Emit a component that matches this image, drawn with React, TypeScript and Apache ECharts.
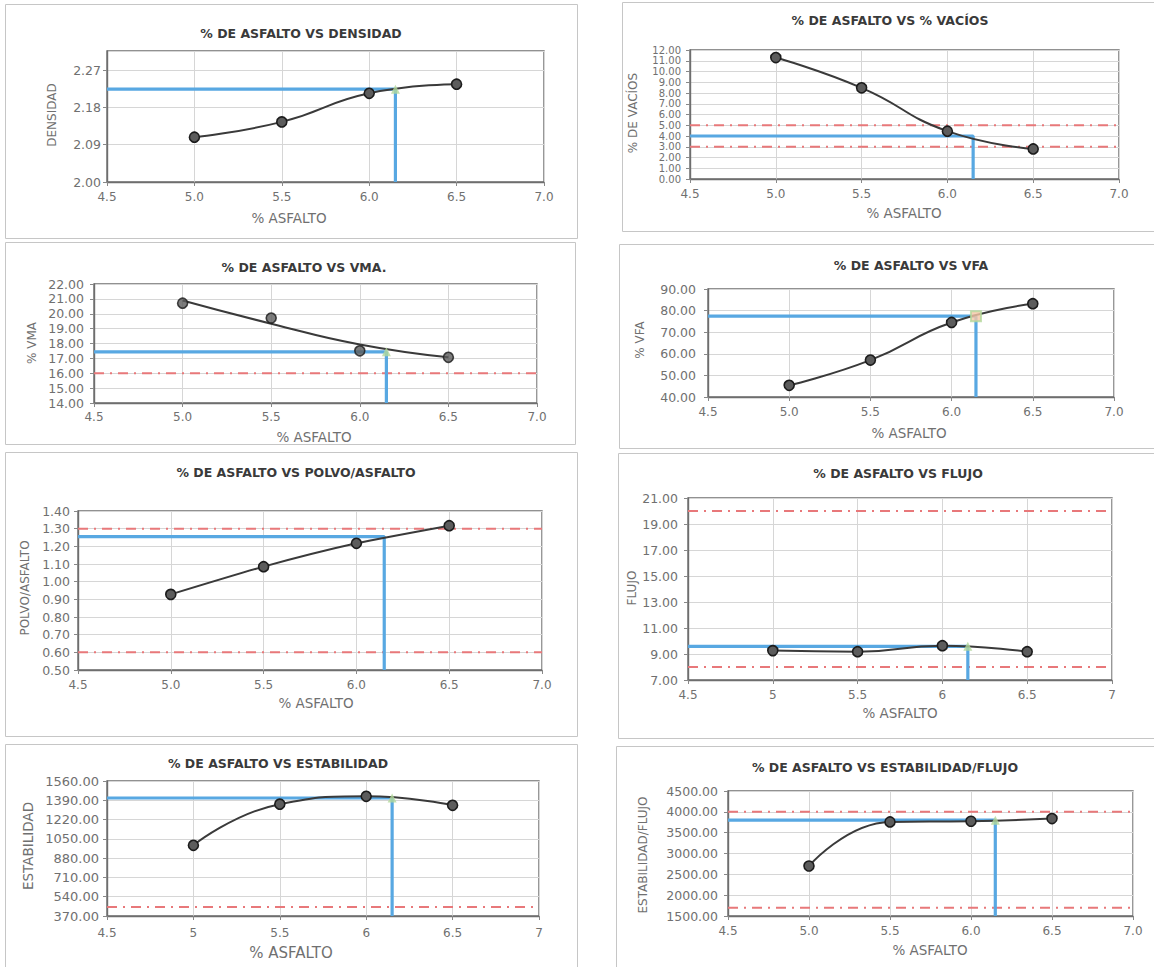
import React, { useEffect, useRef } from "react";
import * as echarts from "echarts";

// ---------- DATA ----------
const asfalto = [5.0, 5.5, 6.0, 6.5];
const asfaltoOptimo = 6.15;

const densidad = [2.108, 2.145, 2.214, 2.236];
const vacios = [11.3, 8.48, 4.45, 2.8];
const vma = [20.71, 19.71, 17.51, 17.07];
const vmaTendencia = [20.89, 19.33, 17.93, 17.07];
const vfa = [45.4, 57.1, 74.5, 83.2];
const polvoAsfalto = [0.928, 1.085, 1.217, 1.317];
const flujo = [9.26, 9.18, 9.64, 9.18];
const estabilidad = [993, 1356, 1425, 1346];
const estabilidadFlujo = [2700, 3758, 3774, 3839];

const valoresOptimos = [2.224, 4.0, 17.44, 77.4, 1.255, 9.59, 1410, 3800];
const limites: number[][] = [[], [5, 3], [16], [], [1.3, 0.6], [20, 8], [450], [4000, 1700]];

const titulos = [
  "% DE ASFALTO VS DENSIDAD",
  "% DE ASFALTO VS % VACÍOS",
  "% DE ASFALTO VS VMA.",
  "% DE ASFALTO VS VFA",
  "% DE ASFALTO VS POLVO/ASFALTO",
  "% DE ASFALTO VS FLUJO",
  "% DE ASFALTO VS ESTABILIDAD",
  "% DE ASFALTO VS ESTABILIDAD/FLUJO",
];
const nombresY = [
  "DENSIDAD",
  "% DE VACÍOS",
  "% VMA",
  "% VFA",
  "POLVO/ASFALTO",
  "FLUJO",
  "ESTABILIDAD",
  "ESTABILIDAD/FLUJO",
];
const nombreX = "% ASFALTO";

const ejeXMin = 4.5;
const ejeXMax = 7.0;
const ejeXIntervalo = 0.5;
const ejeYMin = [2.0, 0, 14, 40, 0.5, 7, 370, 1500];
const ejeYMax = [2.316, 12, 22, 90, 1.4, 21, 1560, 4500];
const ejeYIntervalo = [0.09, 1, 1, 10, 0.1, 2, 170, 500];

const series = [densidad, vacios, vma, vfa, polvoAsfalto, flujo, estabilidad, estabilidadFlujo];

// ---------- LAYOUT / STYLE ----------
type Layout = {
  grid: [number, number, number, number];
  box: [number, number, number, number];
  title: [number, number];
  xName: [number, number];
  yName: [number, number];
  yMargin: number;
  xMargin: number;
  xPlain: boolean;
  yFont: number;
  xNameFont: number;
  yNameFont: number;
  marker: string | null;
  smooth: number;
};

const layouts: Layout[] = [
  { grid: [107, 51, 437, 131], box: [5, 4, 572, 234], title: [301, 33], xName: [289, 218], yName: [52, 115], yMargin: 6, xMargin: 9, xPlain: false, yFont: 12.5, xNameFont: 13.5, yNameFont: 12, marker: "triangle", smooth: 0.5 },
  { grid: [690, 50, 429, 129], box: [622, 2, 540, 229], title: [890, 20], xName: [904, 213], yName: [633, 113], yMargin: 9, xMargin: 9, xPlain: false, yFont: 10, xNameFont: 13.5, yNameFont: 12, marker: null, smooth: 0.5 },
  { grid: [94, 284, 443, 119], box: [5, 242, 570, 202], title: [304, 267], xName: [314, 437], yName: [32, 343], yMargin: 10, xMargin: 8, xPlain: false, yFont: 12.5, xNameFont: 13.5, yNameFont: 12, marker: "triangle", smooth: 0.5 },
  { grid: [708, 289, 406, 108], box: [619, 244, 540, 204], title: [911, 265], xName: [909, 433], yName: [640, 340], yMargin: 12, xMargin: 9, xPlain: false, yFont: 12.5, xNameFont: 13.5, yNameFont: 12, marker: "rect", smooth: 0.5 },
  { grid: [78, 511, 464, 159], box: [5, 452, 572, 284], title: [296, 472], xName: [316, 703], yName: [25, 588], yMargin: 8, xMargin: 9, xPlain: false, yFont: 12.5, xNameFont: 13.5, yNameFont: 12, marker: null, smooth: 0.2 },
  { grid: [688, 498, 424, 182], box: [618, 453, 540, 285], title: [898, 473], xName: [900, 713], yName: [632, 588], yMargin: 10, xMargin: 9, xPlain: true, yFont: 12.5, xNameFont: 13.5, yNameFont: 12, marker: "triangle", smooth: 0.5 },
  { grid: [107, 781, 432, 135], box: [5, 744, 572, 230], title: [278, 763], xName: [291, 953], yName: [28, 846], yMargin: 8, xMargin: 11, xPlain: true, yFont: 13, xNameFont: 15, yNameFont: 13.5, marker: "triangle", smooth: 0.5 },
  { grid: [728, 791, 405, 125], box: [616, 746, 540, 230], title: [885, 767], xName: [930, 950], yName: [643, 855], yMargin: 10, xMargin: 9, xPlain: false, yFont: 12.5, xNameFont: 13.5, yNameFont: 12, marker: "triangle", smooth: 0.5 },
];

const FONT = "DejaVu Sans";
const LABEL_COLOR = "#707070";
const GRID_LINE = "#d6d6d6";
const BORDER = "#6e6e6e";
const CURVE = "#3a3a3a";
const BLUE = "#58a8e2";
const RED = "#e8787a";
const MARKER = "#b3d89b";

function buildOption() {
  const grid: any[] = [];
  const xAxis: any[] = [];
  const yAxis: any[] = [];
  const allSeries: any[] = [];
  const graphic: any[] = [];

  layouts.forEach((L, i) => {
    const [gl, gt, gw, gh] = L.grid;
    grid.push({
      left: gl,
      top: gt,
      width: gw,
      height: gh,
      containLabel: false,
      outerBoundsMode: "none",
      show: true,
      borderColor: BORDER,
      borderWidth: 1.4,
      backgroundColor: "transparent",
    });
    xAxis.push({
      type: "value",
      gridIndex: i,
      min: ejeXMin,
      max: ejeXMax,
      interval: ejeXIntervalo,
      axisLine: { show: true, onZero: false, lineStyle: { color: BORDER, width: 1.4 } },
      axisTick: { show: true, length: 4, lineStyle: { color: "#888" } },
      axisLabel: {
        color: LABEL_COLOR,
        fontFamily: FONT,
        fontSize: 12,
        margin: L.xMargin,
        formatter: (v: number) => (L.xPlain ? String(v) : v.toFixed(1)),
      },
      splitLine: { show: true, lineStyle: { color: GRID_LINE, width: 1 } },
    });
    yAxis.push({
      type: "value",
      gridIndex: i,
      min: ejeYMin[i],
      max: ejeYMax[i],
      interval: ejeYIntervalo[i],
      axisLine: { show: true, onZero: false, lineStyle: { color: BORDER, width: 1.4 } },
      axisTick: { show: true, length: 4, lineStyle: { color: "#888" } },
      axisLabel: {
        color: LABEL_COLOR,
        fontFamily: FONT,
        fontSize: L.yFont,
        lineHeight: L.yFont,
        margin: L.yMargin,
        hideOverlap: false,
        showMinLabel: true,
        showMaxLabel: i === 0 ? false : true,
        formatter: (v: number) => v.toFixed(2),
      },
      splitLine: { show: true, lineStyle: { color: GRID_LINE, width: 1 } },
    });

    // red limit lines
    limites[i].forEach((v) => {
      allSeries.push({
        type: "line",
        xAxisIndex: i,
        yAxisIndex: i,
        data: [
          [ejeXMin, v],
          [ejeXMax, v],
        ],
        symbol: "none",
        silent: true,
        lineStyle: { color: RED, width: 2, type: [10, 6, 2, 6] },
        z: 2,
      });
    });

    // blue optimum guide
    const opt = valoresOptimos[i];
    allSeries.push({
      type: "line",
      xAxisIndex: i,
      yAxisIndex: i,
      data: [
        [ejeXMin, opt],
        [asfaltoOptimo, opt],
        [asfaltoOptimo, ejeYMin[i]],
      ],
      symbol: "none",
      silent: true,
      lineStyle: { color: BLUE, width: 3.2 },
      z: 3,
    });

    const pts = asfalto.map((x, j) => [x, series[i][j]]);
    const pointStyle = { color: "#5c5c5c", borderColor: "#1c1c1c", borderWidth: 1.6 };

    if (i === 2) {
      // VMA: trend line + separate points
      allSeries.push({
        type: "line",
        xAxisIndex: i,
        yAxisIndex: i,
        data: asfalto.map((x, j) => [x, vmaTendencia[j]]),
        smooth: 0.5,
        symbol: "none",
        lineStyle: { color: CURVE, width: 2 },
        z: 4,
      });
      allSeries.push({
        type: "scatter",
        xAxisIndex: i,
        yAxisIndex: i,
        data: pts,
        symbol: "circle",
        symbolSize: 10,
        itemStyle: pointStyle,
        z: 5,
      });
    } else {
      allSeries.push({
        type: "line",
        xAxisIndex: i,
        yAxisIndex: i,
        data: pts,
        smooth: L.smooth,
        symbol: "circle",
        symbolSize: 10,
        showAllSymbol: true,
        lineStyle: { color: CURVE, width: 2 },
        itemStyle: pointStyle,
        z: 5,
      });
    }

    if (L.marker) {
      allSeries.push({
        type: "scatter",
        xAxisIndex: i,
        yAxisIndex: i,
        data: [[asfaltoOptimo, opt]],
        symbol: L.marker,
        symbolSize: L.marker === "rect" ? 10 : 9,
        itemStyle:
          L.marker === "rect"
            ? { color: "#f6c7a6", borderColor: MARKER, borderWidth: 2 }
            : { color: MARKER },
        z: 6,
      });
    }

    // panel frame
    const [bx, by, bw, bh] = L.box;
    graphic.push({
      type: "rect",
      silent: true,
      z: -1,
      shape: { x: bx + 0.5, y: by + 0.5, width: bw, height: bh },
      style: { fill: "none", stroke: "#c6c6c6", lineWidth: 1 },
    });

    // title
    graphic.push({
      type: "text",
      x: L.title[0],
      y: L.title[1],
      silent: true,
      style: {
        text: titulos[i],
        fill: "#3a3a3a",
        fontFamily: FONT,
        fontWeight: "bold",
        fontSize: 12.5,
        align: "center",
        verticalAlign: "middle",
        textAlign: "center",
        textVerticalAlign: "middle",
      },
    });
    // x name
    graphic.push({
      type: "text",
      x: L.xName[0],
      y: L.xName[1],
      silent: true,
      style: {
        text: nombreX,
        fill: LABEL_COLOR,
        fontFamily: FONT,
        fontSize: L.xNameFont,
        align: "center",
        verticalAlign: "middle",
        textAlign: "center",
        textVerticalAlign: "middle",
      },
    });
    // y name
    graphic.push({
      type: "text",
      x: L.yName[0],
      y: L.yName[1],
      rotation: Math.PI / 2,
      silent: true,
      style: {
        text: nombresY[i],
        fill: LABEL_COLOR,
        fontFamily: FONT,
        fontSize: L.yNameFont,
        align: "center",
        verticalAlign: "middle",
        textAlign: "center",
        textVerticalAlign: "middle",
      },
    });
  });

  return {
    animation: false,
    backgroundColor: "#ffffff",
    grid,
    xAxis,
    yAxis,
    series: allSeries,
    graphic,
  };
}

export default function App() {
  const ref = useRef<HTMLDivElement>(null);
  useEffect(() => {
    if (!ref.current) return;
    const chart = echarts.init(ref.current, undefined, { renderer: "svg" });
    chart.setOption(buildOption() as any);
    return () => chart.dispose();
  }, []);
  return (
    <div
      ref={ref}
      style={{ position: "absolute", left: 0, top: 0, width: 1154, height: 967, background: "#fff" }}
    />
  );
}
